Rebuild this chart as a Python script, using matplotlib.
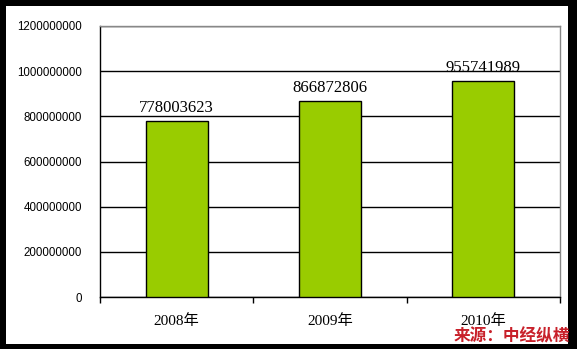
import matplotlib.pyplot as plt
from matplotlib.patches import Rectangle

years = ['2008年', '2009年', '2010年']
values = [778003623, 866872806, 955741989]
yticks = [0, 200000000, 400000000, 600000000, 800000000, 1000000000, 1200000000]

fig = plt.figure(figsize=(5.77, 3.49), dpi=100)
fig.patch.set_facecolor('black')
# white panel inside the black frame
fig.patches.append(Rectangle((6 / 577, 5 / 349), 562 / 577, 338 / 349,
                             transform=fig.transFigure, facecolor='white',
                             edgecolor='none', zorder=-5))

ax = fig.add_axes([100 / 577, 52 / 349, 460 / 577, 271 / 349])
ax.set_facecolor('white')

x = range(len(values))
ax.bar(x, values, width=0.405, color='#99CC00', edgecolor='black',
       linewidth=1, zorder=3)

for i, v in enumerate(values):
    ax.annotate(str(v), (i, v), xytext=(0, 4), textcoords='offset points',
                ha='center', va='bottom', fontsize=12,
                family=['Liberation Serif', 'Noto Sans CJK SC'], zorder=4)

ax.set_xlim(-0.5, 2.5)
ax.set_ylim(0, 1200000000)
ax.set_yticks(yticks)
ax.set_yticklabels([str(t) for t in yticks], fontsize=8.3,
                   family='Liberation Sans')
ax.tick_params(axis='y', length=0, pad=13)
ax.yaxis.grid(True, color='black', linewidth=1, zorder=1)
ax.set_axisbelow(True)

ax.set_xticks([-0.5, 0.5, 1.5, 2.5])
ax.set_xticklabels([])
ax.tick_params(axis='x', which='major', length=4, direction='out', width=1)
ax.set_xticks(list(x), minor=True)
ax.set_xticklabels(years, minor=True, fontsize=11,
                   family=['Liberation Serif', 'Noto Sans CJK SC'])
ax.tick_params(axis='x', which='minor', length=0, pad=12)

for side in ['left', 'bottom']:
    ax.spines[side].set_color('black')
    ax.spines[side].set_linewidth(1)
for side in ['top', 'right']:
    ax.spines[side].set_color('#888888')
    ax.spines[side].set_linewidth(1)

fig.text(570 / 577, 4 / 349, '来源：中经纵横', ha='right', va='bottom',
         fontsize=12, fontweight='bold', color='#C8202A',
         family=['Noto Sans CJK SC'])

fig.savefig('out.png', dpi=100, facecolor=fig.get_facecolor())
